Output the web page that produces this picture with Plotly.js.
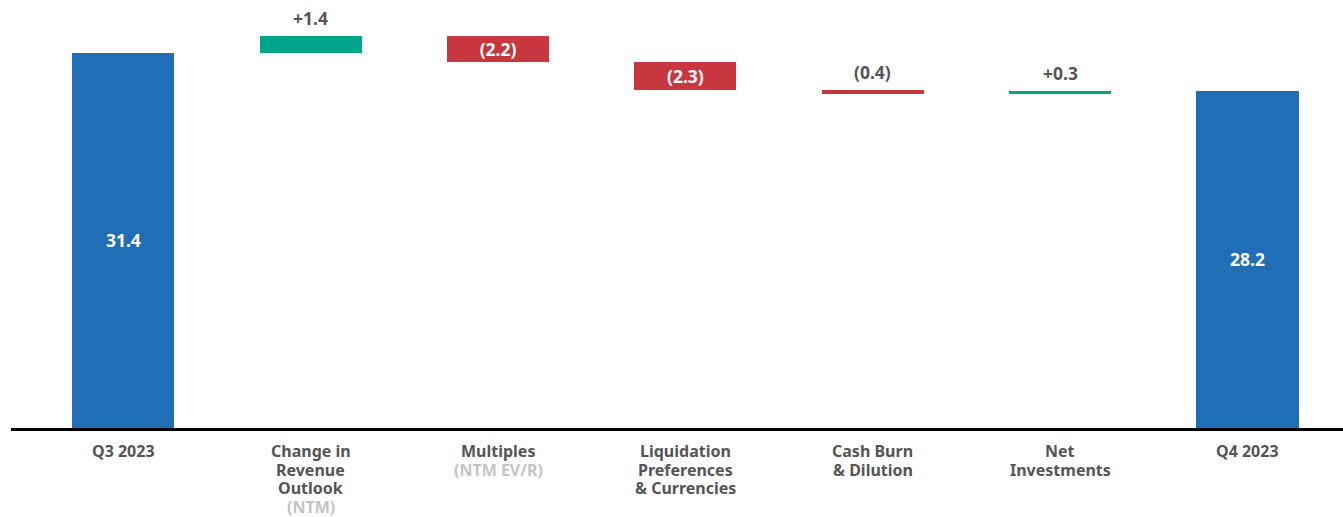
<!DOCTYPE html>
<html><head><meta charset="utf-8">
<script src="https://cdn.plot.ly/plotly-3.0.1.min.js"></script>
<style>html,body{margin:0;padding:0;background:#fff;}#chart{width:1343px;height:517px;}</style>
</head><body><div id="chart"></div>
<script>
const categories = ["Q3 2023","Change in Revenue Outlook","Multiples","Liquidation Preferences & Currencies","Cash Burn & Dilution","Net Investments","Q4 2023"];
// tick label lines; lines in the second list are shown light grey
const tickLines = [
  ["Q3 2023"],
  ["Change in","Revenue","Outlook"],
  ["Multiples"],
  ["Liquidation","Preferences","& Currencies"],
  ["Cash Burn","& Dilution"],
  ["Net","Investments"],
  ["Q4 2023"]
];
const tickSubLines = [[],["(NTM)"],["(NTM EV/R)"],[],[],[],[]];
const measures = ["absolute","relative","relative","relative","relative","relative","total"];
const values = [31.4, 1.4, -2.2, -2.3, -0.4, 0.3, 28.2];
const labels = ["31.4","+1.4","(2.2)","(2.3)","(0.4)","+0.3","28.2"];
const labelInside = [true, false, true, true, false, false, true];

const FONT = "'Noto Sans', 'Open Sans', sans-serif";
const colors = {up:"#00a58a", down:"#c8363f", total:"#1f6eb6"};

// bar extents computed from the data
const tops = [], bottoms = [];
let run = 0;
values.forEach((v,i)=>{
  if (measures[i] === "absolute" || measures[i] === "total") { run = v; tops.push(v); bottoms.push(0); }
  else { const s = run; run = s + v; tops.push(Math.max(s, run)); bottoms.push(Math.min(s, run)); }
});

const barColors = values.map((v,i)=> measures[i] !== "relative" ? colors.total : (v >= 0 ? colors.up : colors.down));

const trace = {
  type: "bar",
  x: categories,
  y: tops.map((t,i)=> t - bottoms[i]),
  base: bottoms,
  marker: {color: barColors},
  width: 0.545,
  text: labels.map((l,i)=> labelInside[i] ? l : ""),
  textposition: labelInside.map(b=> b ? "inside" : "none"),
  insidetextanchor: "middle",
  textfont: {family: FONT, size: 17.5, color: "#ffffff", weight: 700},
  constraintext: "none",
  hoverinfo: "skip"
};

const annotations = [];
labels.forEach((l,i)=>{
  if (!labelInside[i]) {
    annotations.push({x: categories[i], y: tops[i], yanchor: "bottom", yshift: 4, showarrow: false,
      text: "<b>"+l+"</b>", font: {family: FONT, size: 17.5, color: "#555555"}});
  }
});
// category labels, one annotation per line for tight line spacing
categories.forEach((c,i)=>{
  const lines = tickLines[i].map(t=>({t, col:"#555555"})).concat(tickSubLines[i].map(t=>({t, col:"#c4c4c4"})));
  lines.forEach((ln,k)=>{
    annotations.push({x: c, xref: "x", y: 0, yref: "paper", yanchor: "middle", yshift: -(23 + 18.5*k),
      showarrow: false, text: "<b>"+ln.t+"</b>", font: {family: FONT, size: 16, color: ln.col}});
  });
});

const layout = {
  width: 1343, height: 517,
  margin: {l: 11, r: 0, t: 0, b: 89},
  paper_bgcolor: "#fff", plot_bgcolor: "#fff",
  showlegend: false,
  bargap: 0,
  xaxis: {
    type: "category",
    range: [-0.6, 6.51],
    showticklabels: false,
    showline: true, linecolor: "#000", linewidth: 2.5,
    showgrid: false, zeroline: false, ticks: "",
    fixedrange: true
  },
  yaxis: {
    range: [0, 35.8], showgrid: false, zeroline: false, showticklabels: false, showline: false, ticks: "", fixedrange: true
  },
  annotations: annotations
};

Plotly.newPlot("chart", [trace], layout, {displayModeBar: false, staticPlot: true});
</script></body></html>
